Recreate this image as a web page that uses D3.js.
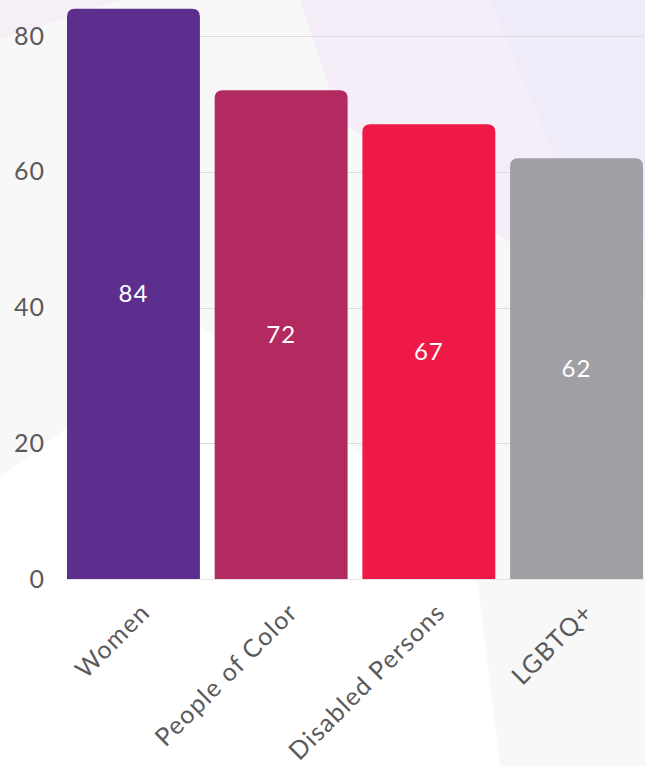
<!DOCTYPE html>
<html>
<head>
<meta charset="utf-8">
<script src="https://cdn.jsdelivr.net/npm/d3@7"></script>
<style>
  html, body { margin: 0; padding: 0; background: #ffffff; }
  svg { display: block; }
  text { font-family: Lato, "Open Sans", sans-serif; }
</style>
</head>
<body>
<svg id="chart" width="645" height="766"></svg>
<script>
// Share of respondents per group
const categories = ["Women", "People of Color", "Disabled Persons", "LGBTQ+"];
const values = [84, 72, 67, 62];
const barColors = ["#5c2f8f", "#b22a60", "#ee1946", "#a0a0a4"];
const yTicks = [0, 20, 40, 60, 80];

const W = 645, H = 766;
const svg = d3.select("#chart");

// soft decorative backdrop
const bg = svg.append("g");
bg.append("rect").attr("width", W).attr("height", H).attr("fill", "#ffffff");
bg.append("path")
  .attr("d", "M0,0 L645,0 L645,766 L500,766 L478,585 L330,420 L200,326 L0,478 Z")
  .attr("fill", "#f8f8f9");
bg.append("path")
  .attr("d", "M300,0 L645,0 L645,300 L520,250 L340,120 Z")
  .attr("fill", "#f5eef9");
bg.append("path")
  .attr("d", "M490,0 L645,0 L645,240 L560,170 Z")
  .attr("fill", "#efebf8");
bg.append("path")
  .attr("d", "M0,0 L120,0 L0,40 Z")
  .attr("fill", "#f6eff6");

const x = d3.scaleBand()
  .domain(categories)
  .range([67, 643])
  .paddingInner(0.1)
  .paddingOuter(0);

const y = d3.scaleLinear()
  .domain([0, 80])
  .range([579, 36]);

// horizontal gridlines
svg.append("g")
  .selectAll("line")
  .data(yTicks)
  .join("line")
  .attr("x1", 67).attr("x2", 643)
  .attr("y1", d => Math.round(y(d)) + 0.5)
  .attr("y2", d => Math.round(y(d)) + 0.5)
  .attr("stroke", d => d === 0 ? "#e4e4e6" : "#dcdbe0")
  .attr("stroke-width", 1);

// y axis labels
const yAxis = d3.axisLeft(y).tickValues(yTicks).tickSize(0).tickPadding(0);
const gy = svg.append("g").attr("transform", "translate(45,0)").call(yAxis);
gy.select(".domain").remove();
gy.selectAll("text")
  .attr("fill", "#5a5a5a")
  .style("font-size", "25px")
  .style("letter-spacing", "1px");

// bars with rounded top corners
const r = 8;
function barPath(d, i) {
  const x0 = x(categories[i]);
  const w = x.bandwidth();
  const y0 = y(d), y1 = y(0);
  return `M${x0},${y1} L${x0},${y0 + r} Q${x0},${y0} ${x0 + r},${y0} ` +
         `L${x0 + w - r},${y0} Q${x0 + w},${y0} ${x0 + w},${y0 + r} L${x0 + w},${y1} Z`;
}
svg.append("g")
  .selectAll("path")
  .data(values)
  .join("path")
  .attr("d", barPath)
  .attr("fill", (d, i) => barColors[i]);

// value labels centred in each bar
svg.append("g")
  .selectAll("text")
  .data(values)
  .join("text")
  .attr("x", (d, i) => x(categories[i]) + x.bandwidth() / 2)
  .attr("y", d => (y(d) + y(0)) / 2)
  .attr("dy", "0.35em")
  .attr("text-anchor", "middle")
  .attr("fill", "#ffffff")
  .style("font-size", "24px")
  .style("letter-spacing", "1px")
  .text(d => d);

// x axis labels, rotated
const xAxis = d3.axisBottom(x).tickSize(0).tickPadding(0);
const gx = svg.append("g").attr("transform", "translate(0,579)").call(xAxis);
gx.select(".domain").remove();
gx.selectAll("text")
  .attr("fill", "#5a5a5a")
  .style("font-size", "25px")
  .style("letter-spacing", "1.3px")
  .attr("text-anchor", "end")
  .attr("dy", 0)
  .attr("y", 0)
  .attr("transform", "translate(18,35) rotate(-45)");
</script>
</body>
</html>
